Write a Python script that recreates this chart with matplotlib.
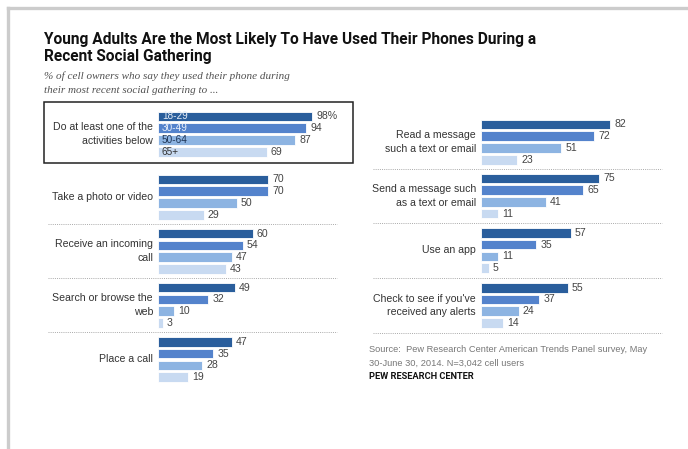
import matplotlib
matplotlib.use("Agg")
import matplotlib.pyplot as plt
from matplotlib.patches import Rectangle
from matplotlib.lines import Line2D

AGES = ["18-29", "30-49", "50-64", "65+"]
COLORS = ["#2a5e9c", "#5483cc", "#8db4e2", "#c8daf1"]

LEFT_LABELS = [
    "Do at least one of the\nactivities below",
    "Take a photo or video",
    "Receive an incoming\ncall",
    "Search or browse the\nweb",
    "Place a call",
]
LEFT_VALUES = [
    [98, 94, 87, 69],
    [70, 70, 50, 29],
    [60, 54, 47, 43],
    [49, 32, 10, 3],
    [47, 35, 28, 19],
]

RIGHT_LABELS = [
    "Read a message\nsuch a text or email",
    "Send a message such\nas a text or email",
    "Use an app",
    "Check to see if you've\nreceived any alerts",
]
RIGHT_VALUES = [
    [82, 72, 51, 23],
    [75, 65, 41, 11],
    [57, 35, 11, 5],
    [55, 37, 24, 14],
]

TITLE = ("Young Adults Are the Most Likely To Have Used Their Phones During a\n"
         "Recent Social Gathering")
SUBTITLE = ("% of cell owners who say they used their phone during\n"
            "their most recent social gathering to ...")
SOURCE = ("Source:  Pew Research Center American Trends Panel survey, May\n"
          "30-June 30, 2014. N=3,042 cell users")

W, H = 688, 449
PX_PER_UNIT = 1.575
ROW_PX = 11.75
ROW0_PX = 116.5
LEFT_STARTS = [0, 5.36, 9.97, 14.56, 19.18]
RIGHT_STARTS = [0.68, 5.27, 9.9, 14.57]

LABEL_FONT = ["Liberation Sans", "DejaVu Sans"]
BOLD_FONT = ["Roboto", "DejaVu Sans"]


def fig_box(x0, x1, y0, y1):
    return [x0 / W, 1 - y1 / H, (x1 - x0) / W, (y1 - y0) / H]


def make_axes(fig, x0):
    y_top, y_bot = 95, 400
    ax = fig.add_axes(fig_box(x0, x0 + 100 * PX_PER_UNIT, y_top, y_bot))
    ax.set_xlim(0, 100)
    ax.set_ylim((y_bot - ROW0_PX) / ROW_PX, (y_top - ROW0_PX) / ROW_PX)
    ax.axis("off")
    return ax


def px_units(px):
    return px / PX_PER_UNIT


def draw_panel(ax, labels, values, starts, first_pct=False):
    for g, (lab, vals) in enumerate(zip(labels, values)):
        ys = [starts[g] + i for i in range(len(vals))]
        ax.barh(ys, vals, height=0.82, color=COLORS, edgecolor="white",
                linewidth=0.6, clip_on=False)
        for i, (y, v) in enumerate(zip(ys, vals)):
            txt = f"{v}%" if (first_pct and g == 0 and i == 0) else str(v)
            ax.text(v + px_units(4), y, txt, ha="left", va="center",
                    fontsize=7.6, color="#444444", family=LABEL_FONT,
                    clip_on=False)
        ax.text(-px_units(5), starts[g] + 1.5, lab, ha="right", va="center",
                fontsize=7.6, color="#333333", family=LABEL_FONT,
                linespacing=1.45, clip_on=False)


fig = plt.figure(figsize=(W / 100, H / 100), dpi=100)

# gray frame on top and left
fig.add_artist(Line2D([8 / W, 1], [1 - 7.5 / H, 1 - 7.5 / H], color="#cccccc",
                      lw=2.4, transform=fig.transFigure))
fig.add_artist(Line2D([8 / W, 8 / W], [0, 1 - 7.5 / H], color="#cccccc",
                      lw=2.4, transform=fig.transFigure))

fig.text(44 / W, 1 - 32 / H, TITLE, ha="left", va="top", fontsize=11.2,
         fontweight="bold", family=BOLD_FONT, linespacing=1.18,
         color="#111111")
fig.text(44 / W, 1 - 71.5 / H, SUBTITLE, ha="left", va="top", fontsize=8.0,
         style="italic", family=["Liberation Serif", "DejaVu Serif"],
         linespacing=1.65, color="#505050")

axl = make_axes(fig, 158)
axr = make_axes(fig, 481)

draw_panel(axl, LEFT_LABELS, LEFT_VALUES, LEFT_STARTS, first_pct=True)
draw_panel(axr, RIGHT_LABELS, RIGHT_VALUES, RIGHT_STARTS)

# age labels inside the first group
age_colors = ["#e4ecf7", "#e8effa", "#1f3556", "#333333"]
for i, (a, c) in enumerate(zip(AGES, age_colors)):
    axl.text(px_units(4), LEFT_STARTS[0] + i, a, ha="left", va="center",
             fontsize=7.2, color=c, family=LABEL_FONT)

# box around the first group
axl.add_patch(Rectangle((px_units(44 - 158), -1.23),
                        px_units(353 - 44), 5.19,
                        fill=False, edgecolor="#222222", lw=1.1,
                        clip_on=False))


def separators(ax, starts, x0_px, x1_px, axis_px, tail=False):
    seps = [(starts[k] + 3 + starts[k + 1]) / 2 for k in range(len(starts) - 1)]
    if tail:
        seps.append(starts[-1] + 3.85)
    for s in seps:
        ax.plot([px_units(x0_px - axis_px), px_units(x1_px - axis_px)], [s, s],
                ls=(0, (1, 1.2)), color="#aaaaaa", lw=0.7, clip_on=False)


separators(axl, LEFT_STARTS[1:], 48, 337, 158)
separators(axr, RIGHT_STARTS, 373, 662, 481, tail=True)

fig.text(369 / W, 1 - 345 / H, SOURCE, ha="left", va="top", fontsize=6.7,
         color="#777777", family=LABEL_FONT, linespacing=1.7)
fig.text(369 / W, 1 - 372 / H, "PEW RESEARCH CENTER", ha="left", va="top",
         fontsize=6.7, fontweight="bold", color="#111111", family=BOLD_FONT)

fig.savefig("out.png", dpi=100)
